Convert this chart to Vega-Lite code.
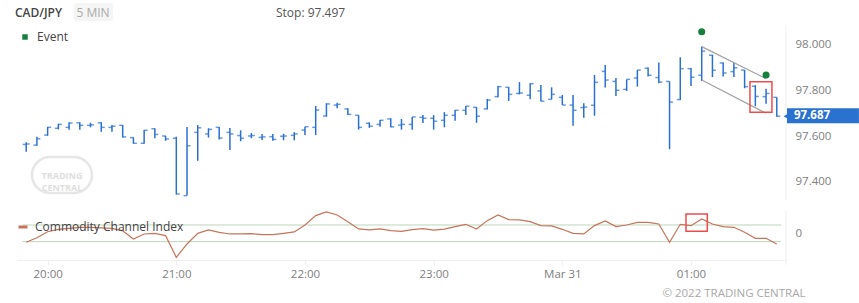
{
  "$schema": "https://vega.github.io/schema/vega-lite/v6.json",
  "width": 769,
  "height": 260,
  "autosize": "none",
  "padding": {"left": 17, "top": 0, "right": 73, "bottom": 43},
  "config": {
    "font": "Open Sans",
    "view": {"stroke": null},
    "legend": {"labelFont": "Open Sans", "labelFontSize": 12, "labelColor": "#444444"}
  },
  "datasets": {
    "bars": [
      {"t":"2022-03-30T19:50","o":97.563,"h":97.572,"l":97.531,"c":97.565,"cci":-108},
      {"t":"2022-03-30T19:55","o":97.560,"h":97.597,"l":97.557,"c":97.588,"cci":-53},
      {"t":"2022-03-30T20:00","o":97.604,"h":97.640,"l":97.601,"c":97.638,"cci":19},
      {"t":"2022-03-30T20:05","o":97.634,"h":97.654,"l":97.629,"c":97.651,"cci":48},
      {"t":"2022-03-30T20:10","o":97.638,"h":97.660,"l":97.628,"c":97.657,"cci":60},
      {"t":"2022-03-30T20:15","o":97.658,"h":97.660,"l":97.628,"c":97.647,"cci":72},
      {"t":"2022-03-30T20:20","o":97.647,"h":97.658,"l":97.638,"c":97.649,"cci":70},
      {"t":"2022-03-30T20:25","o":97.658,"h":97.660,"l":97.619,"c":97.638,"cci":65},
      {"t":"2022-03-30T20:30","o":97.638,"h":97.648,"l":97.619,"c":97.643,"cci":58},
      {"t":"2022-03-30T20:35","o":97.647,"h":97.648,"l":97.593,"c":97.596,"cci":30},
      {"t":"2022-03-30T20:40","o":97.593,"h":97.594,"l":97.566,"c":97.568,"cci":-68},
      {"t":"2022-03-30T20:45","o":97.568,"h":97.626,"l":97.566,"c":97.625,"cci":-8},
      {"t":"2022-03-30T20:50","o":97.632,"h":97.634,"l":97.590,"c":97.607,"cci":0},
      {"t":"2022-03-30T20:55","o":97.600,"h":97.601,"l":97.579,"c":97.587,"cci":-28},
      {"t":"2022-03-30T21:00","o":97.590,"h":97.597,"l":97.343,"c":97.345,"cci":-288},
      {"t":"2022-03-30T21:05","o":97.338,"h":97.640,"l":97.338,"c":97.557,"cci":-128},
      {"t":"2022-03-30T21:10","o":97.616,"h":97.648,"l":97.491,"c":97.636,"cci":0},
      {"t":"2022-03-30T21:15","o":97.609,"h":97.634,"l":97.593,"c":97.629,"cci":40},
      {"t":"2022-03-30T21:20","o":97.638,"h":97.640,"l":97.585,"c":97.591,"cci":12},
      {"t":"2022-03-30T21:25","o":97.616,"h":97.635,"l":97.538,"c":97.609,"cci":-8},
      {"t":"2022-03-30T21:30","o":97.602,"h":97.625,"l":97.577,"c":97.590,"cci":-6},
      {"t":"2022-03-30T21:35","o":97.600,"h":97.613,"l":97.590,"c":97.602,"cci":-4},
      {"t":"2022-03-30T21:40","o":97.594,"h":97.609,"l":97.582,"c":97.596,"cci":-16},
      {"t":"2022-03-30T21:45","o":97.597,"h":97.609,"l":97.579,"c":97.585,"cci":-16},
      {"t":"2022-03-30T21:50","o":97.599,"h":97.610,"l":97.581,"c":97.600,"cci":0},
      {"t":"2022-03-30T21:55","o":97.603,"h":97.617,"l":97.581,"c":97.609,"cci":16},
      {"t":"2022-03-30T22:00","o":97.626,"h":97.641,"l":97.604,"c":97.641,"cci":100},
      {"t":"2022-03-30T22:05","o":97.638,"h":97.732,"l":97.604,"c":97.714,"cci":212},
      {"t":"2022-03-30T22:10","o":97.688,"h":97.744,"l":97.685,"c":97.741,"cci":256},
      {"t":"2022-03-30T22:15","o":97.736,"h":97.746,"l":97.722,"c":97.739,"cci":220},
      {"t":"2022-03-30T22:20","o":97.719,"h":97.722,"l":97.692,"c":97.695,"cci":140},
      {"t":"2022-03-30T22:25","o":97.691,"h":97.692,"l":97.628,"c":97.638,"cci":52},
      {"t":"2022-03-30T22:30","o":97.656,"h":97.660,"l":97.636,"c":97.643,"cci":40},
      {"t":"2022-03-30T22:35","o":97.651,"h":97.670,"l":97.641,"c":97.669,"cci":52},
      {"t":"2022-03-30T22:40","o":97.675,"h":97.678,"l":97.638,"c":97.640,"cci":32},
      {"t":"2022-03-30T22:45","o":97.648,"h":97.675,"l":97.628,"c":97.651,"cci":24},
      {"t":"2022-03-30T22:50","o":97.651,"h":97.684,"l":97.628,"c":97.684,"cci":44},
      {"t":"2022-03-30T22:55","o":97.682,"h":97.692,"l":97.657,"c":97.678,"cci":56},
      {"t":"2022-03-30T23:00","o":97.678,"h":97.692,"l":97.628,"c":97.665,"cci":38},
      {"t":"2022-03-30T23:05","o":97.669,"h":97.705,"l":97.638,"c":97.691,"cci":50},
      {"t":"2022-03-30T23:10","o":97.691,"h":97.714,"l":97.667,"c":97.713,"cci":80},
      {"t":"2022-03-30T23:15","o":97.713,"h":97.732,"l":97.692,"c":97.731,"cci":108},
      {"t":"2022-03-30T23:20","o":97.726,"h":97.727,"l":97.658,"c":97.687,"cci":52},
      {"t":"2022-03-30T23:25","o":97.719,"h":97.763,"l":97.717,"c":97.758,"cci":152},
      {"t":"2022-03-30T23:30","o":97.773,"h":97.820,"l":97.770,"c":97.817,"cci":220},
      {"t":"2022-03-30T23:35","o":97.814,"h":97.815,"l":97.754,"c":97.783,"cci":164},
      {"t":"2022-03-30T23:40","o":97.787,"h":97.837,"l":97.783,"c":97.789,"cci":160},
      {"t":"2022-03-30T23:45","o":97.779,"h":97.832,"l":97.761,"c":97.830,"cci":140},
      {"t":"2022-03-30T23:50","o":97.798,"h":97.824,"l":97.753,"c":97.753,"cci":92},
      {"t":"2022-03-30T23:55","o":97.761,"h":97.814,"l":97.761,"c":97.783,"cci":88},
      {"t":"2022-03-31T00:00","o":97.770,"h":97.780,"l":97.736,"c":97.736,"cci":48},
      {"t":"2022-03-31T00:05","o":97.736,"h":97.780,"l":97.645,"c":97.713,"cci":0},
      {"t":"2022-03-31T00:10","o":97.725,"h":97.744,"l":97.680,"c":97.727,"cci":-8},
      {"t":"2022-03-31T00:15","o":97.735,"h":97.868,"l":97.689,"c":97.836,"cci":92},
      {"t":"2022-03-31T00:20","o":97.884,"h":97.912,"l":97.813,"c":97.846,"cci":148},
      {"t":"2022-03-31T00:25","o":97.840,"h":97.855,"l":97.776,"c":97.801,"cci":80},
      {"t":"2022-03-31T00:30","o":97.805,"h":97.849,"l":97.798,"c":97.849,"cci":100},
      {"t":"2022-03-31T00:35","o":97.855,"h":97.890,"l":97.817,"c":97.890,"cci":132},
      {"t":"2022-03-31T00:40","o":97.898,"h":97.901,"l":97.862,"c":97.867,"cci":132},
      {"t":"2022-03-31T00:45","o":97.857,"h":97.923,"l":97.832,"c":97.837,"cci":112},
      {"t":"2022-03-31T00:50","o":97.840,"h":97.840,"l":97.542,"c":97.749,"cci":-108},
      {"t":"2022-03-31T00:55","o":97.760,"h":97.946,"l":97.758,"c":97.896,"cci":108},
      {"t":"2022-03-31T01:00","o":97.896,"h":97.899,"l":97.820,"c":97.858,"cci":92},
      {"t":"2022-03-31T01:05","o":97.867,"h":97.993,"l":97.842,"c":97.973,"cci":172},
      {"t":"2022-03-31T01:10","o":97.955,"h":97.957,"l":97.859,"c":97.889,"cci":112},
      {"t":"2022-03-31T01:15","o":97.921,"h":97.923,"l":97.861,"c":97.877,"cci":80},
      {"t":"2022-03-31T01:20","o":97.883,"h":97.921,"l":97.859,"c":97.900,"cci":72},
      {"t":"2022-03-31T01:25","o":97.890,"h":97.890,"l":97.810,"c":97.817,"cci":12},
      {"t":"2022-03-31T01:30","o":97.819,"h":97.823,"l":97.731,"c":97.774,"cci":-60},
      {"t":"2022-03-31T01:35","o":97.773,"h":97.808,"l":97.742,"c":97.787,"cci":-60},
      {"t":"2022-03-31T01:40","o":97.770,"h":97.770,"l":97.685,"c":97.687,"cci":-128}
    ],
    "channel": [
      {"t":"2022-03-31T01:05","p":97.993,"side":"upper"},
      {"t":"2022-03-31T01:35","p":97.852,"side":"upper"},
      {"t":"2022-03-31T01:05","p":97.846,"side":"lower"},
      {"t":"2022-03-31T01:35","p":97.700,"side":"lower"}
    ],
    "events": [
      {"t":"2022-03-31T01:05","p":98.058},
      {"t":"2022-03-31T01:35","p":97.868}
    ],
    "levels": [{"lvl": 100}, {"lvl": -100}]
  },
  "resolve": {"scale": {"y": "independent"}},
  "layer": [
    {
      "layer": [
        {
          "data": {"name": "bars"},
          "mark": {"type": "rule", "color": "#2a70d2", "strokeWidth": 1.5},
          "encoding": {
            "x": {
              "field": "t", "type": "temporal",
              "scale": {"domain": ["2022-03-30T19:45:43", "2022-03-31T01:44:18"]},
              "title": "© 2022 TRADING CENTRAL",
              "axis": {
                "tickCount": 6,
                "labelExpr": "hours(datum.value) == 0 ? timeFormat(datum.value, '%b %d') : timeFormat(datum.value, '%H:%M')",
                "grid": false,
                "domainColor": "#efefef",
                "tickColor": "#efefef",
                "tickSize": 5,
                "labelColor": "#808080",
                "labelFontSize": 11.5,
                "labelPadding": 3,
                "titleX": 788,
                "titleY": 33,
                "titleAlign": "right",
                "titleBaseline": "middle",
                "titleColor": "#a8a8a8",
                "titleFontSize": 11.5,
                "titleFontWeight": "normal"
              }
            },
            "y": {
              "field": "l", "type": "quantitative",
              "scale": {"domain": [97.05495, 98.1978], "nice": false, "zero": false},
              "title": null,
              "axis": {
                "orient": "right",
                "values": [97.4, 97.6, 97.8, 98.0],
                "format": ".3f",
                "ticks": false,
                "domain": false,
                "grid": false,
                "labelPadding": 9,
                "labelFontSize": 11.5,
                "labelColor": "#808080"
              }
            },
            "y2": {"field": "h"}
          }
        },
        {
          "data": {"name": "bars"},
          "mark": {"type": "tick", "orient": "horizontal", "color": "#2a70d2", "size": 3.5, "thickness": 1.5, "xOffset": -1.75},
          "encoding": {
            "x": {"field": "t", "type": "temporal"},
            "y": {"field": "o", "type": "quantitative"}
          }
        },
        {
          "data": {"name": "bars"},
          "mark": {"type": "tick", "orient": "horizontal", "color": "#2a70d2", "size": 3.5, "thickness": 1.5, "xOffset": 1.75},
          "encoding": {
            "x": {"field": "t", "type": "temporal"},
            "y": {"field": "c", "type": "quantitative"}
          }
        },
        {
          "data": {"name": "channel"},
          "mark": {"type": "line", "color": "#a3a3a3", "strokeWidth": 1.3},
          "encoding": {
            "x": {"field": "t", "type": "temporal"},
            "y": {"field": "p", "type": "quantitative"},
            "detail": {"field": "side"}
          }
        },
        {
          "data": {"name": "events"},
          "mark": {"type": "point", "filled": true, "size": 50, "opacity": 1},
          "encoding": {
            "x": {"field": "t", "type": "temporal"},
            "y": {"field": "p", "type": "quantitative"},
            "fill": {
              "datum": "Event",
              "scale": {"range": ["#17803d"]},
              "legend": {"orient": "none", "legendX": 2, "legendY": 31, "title": null, "symbolType": "square", "symbolSize": 30, "labelOffset": 6}
            }
          }
        },
        {
          "data": {"values": [{}]},
          "mark": {"type": "rect", "filled": false, "color": "#ee4b4b", "strokeWidth": 1.5},
          "encoding": {
            "x": {"datum": {"year":2022,"month":3,"date":31,"hours":1,"minutes":27,"seconds":30}},
            "x2": {"datum": {"year":2022,"month":3,"date":31,"hours":1,"minutes":37,"seconds":45}},
            "y": {"datum": 97.8387},
            "y2": {"datum": 97.7042}
          }
        },
        {
          "data": {"values": [{}]},
          "mark": {"type": "rect", "color": "#f5f5f5", "cornerRadius": 3},
          "encoding": {
            "x": {"datum": {"year":2022,"month":3,"date":30,"hours":20,"minutes":12,"seconds":18}},
            "x2": {"datum": {"year":2022,"month":3,"date":30,"hours":20,"minutes":30,"seconds":29}},
            "y": {"datum": 98.1846},
            "y2": {"datum": 98.1055}
          }
        },
        {
          "data": {"values": [{}]},
          "mark": {"type": "text", "text": "CAD/JPY", "align": "left", "baseline": "middle", "fontSize": 12, "fontWeight": 600, "color": "#444444"},
          "encoding": {
            "x": {"datum": {"year":2022,"month":3,"date":30,"hours":19,"minutes":44,"seconds":47}},
            "y": {"datum": 98.1407}
          }
        },
        {
          "data": {"values": [{}]},
          "mark": {"type": "text", "text": "5 MIN", "align": "center", "baseline": "middle", "fontSize": 12, "color": "#aaaaaa"},
          "encoding": {
            "x": {"datum": {"year":2022,"month":3,"date":30,"hours":20,"minutes":21,"seconds":9}},
            "y": {"datum": 98.1407}
          }
        },
        {
          "data": {"values": [{}]},
          "mark": {"type": "text", "text": "Stop: 97.497", "align": "left", "baseline": "middle", "fontSize": 12, "color": "#555555"},
          "encoding": {
            "x": {"datum": {"year":2022,"month":3,"date":30,"hours":21,"minutes":46,"seconds":29}},
            "y": {"datum": 98.1407}
          }
        },
        {
          "data": {"values": [{}]},
          "mark": {"type": "rect", "filled": false, "color": "#e6e6e6", "strokeWidth": 2.5, "cornerRadius": 18},
          "encoding": {
            "x": {"datum": {"year":2022,"month":3,"date":30,"hours":19,"minutes":52,"seconds":42}},
            "x2": {"datum": {"year":2022,"month":3,"date":30,"hours":20,"minutes":20,"seconds":41}},
            "y": {"datum": 97.5077},
            "y2": {"datum": 97.3495}
          }
        },
        {
          "data": {"values": [{}]},
          "mark": {"type": "text", "text": ["TRADING", "CENTRAL"], "lineHeight": 12, "align": "center", "baseline": "middle", "fontSize": 9, "fontWeight": "bold", "color": "#dedede"},
          "encoding": {
            "x": {"datum": {"year":2022,"month":3,"date":30,"hours":20,"minutes":6,"seconds":42}},
            "y": {"datum": 97.422}
          }
        },
        {
          "data": {"values": [{}]},
          "mark": {"type": "rule", "color": "#eeeeee", "strokeWidth": 1},
          "encoding": {
            "x": {"datum": {"year":2022,"month":3,"date":31,"hours":1,"minutes":44,"seconds":18}},
            "y": {"datum": 98.088},
            "y2": {"datum": 97.319}
          }
        },
        {
          "data": {"values": [{}]},
          "mark": {"type": "rect", "color": "#2a72d0"},
          "encoding": {
            "x": {"datum": {"year":2022,"month":3,"date":31,"hours":1,"minutes":44,"seconds":46}},
            "x2": {"datum": {"year":2022,"month":3,"date":31,"hours":2,"minutes":18,"seconds":19}},
            "y": {"datum": 97.7218},
            "y2": {"datum": 97.6558}
          }
        },
        {
          "data": {"values": [{}]},
          "mark": {"type": "point", "shape": "triangle-left", "filled": true, "color": "#2a72d0", "size": 30, "opacity": 1},
          "encoding": {
            "x": {"datum": {"year":2022,"month":3,"date":31,"hours":1,"minutes":44,"seconds":18}},
            "y": {"datum": 97.687}
          }
        },
        {
          "data": {"values": [{}]},
          "mark": {"type": "text", "text": "97.687", "align": "center", "baseline": "middle", "fontSize": 11.5, "fontWeight": "bold", "color": "#ffffff"},
          "encoding": {
            "x": {"datum": {"year":2022,"month":3,"date":31,"hours":1,"minutes":56,"seconds":25}},
            "y": {"datum": 97.687}
          }
        }
      ]
    },
    {
      "layer": [
        {
          "data": {"name": "levels"},
          "mark": {"type": "rule", "color": "#bcd5bc", "strokeWidth": 1},
          "encoding": {
            "x": {"datum": {"year":2022,"month":3,"date":30,"hours":19,"minutes":48,"seconds":20}},
            "x2": {"datum": {"year":2022,"month":3,"date":31,"hours":1,"minutes":42}},
            "y": {
              "field": "lvl", "type": "quantitative",
              "scale": {"domain": [-320.4, 2800], "nice": false, "zero": false},
              "title": null,
              "axis": {
                "orient": "right",
                "values": [0],
                "ticks": false,
                "domain": false,
                "grid": false,
                "labelPadding": 9,
                "labelFontSize": 11.5,
                "labelColor": "#808080"
              }
            }
          }
        },
        {
          "data": {"values": [{}]},
          "mark": {"type": "rule", "color": "#eeeeee", "strokeWidth": 1},
          "encoding": {
            "x": {"datum": {"year":2022,"month":3,"date":31,"hours":1,"minutes":44,"seconds":18}},
            "y": {"datum": 279.6},
            "y2": {"datum": -380}
          }
        },
        {
          "data": {"name": "bars"},
          "mark": {"type": "line", "strokeWidth": 1.2},
          "encoding": {
            "x": {"field": "t", "type": "temporal"},
            "y": {"field": "cci", "type": "quantitative"},
            "stroke": {
              "datum": "Commodity Channel Index",
              "scale": {"range": ["#c8735a"]},
              "legend": {"orient": "none", "legendX": 0, "legendY": 221, "title": null, "symbolType": "stroke", "symbolSize": 81, "symbolStrokeWidth": 3, "labelOffset": 6}
            }
          }
        },
        {
          "data": {"values": [{}]},
          "mark": {"type": "rect", "filled": false, "color": "#ee4b4b", "strokeWidth": 1.5},
          "encoding": {
            "x": {"datum": {"year":2022,"month":3,"date":31,"hours":0,"minutes":57,"seconds":40}},
            "x2": {"datum": {"year":2022,"month":3,"date":31,"hours":1,"minutes":7,"seconds":36}},
            "y": {"datum": 231.6},
            "y2": {"datum": 24}
          }
        }
      ]
    }
  ]
}
